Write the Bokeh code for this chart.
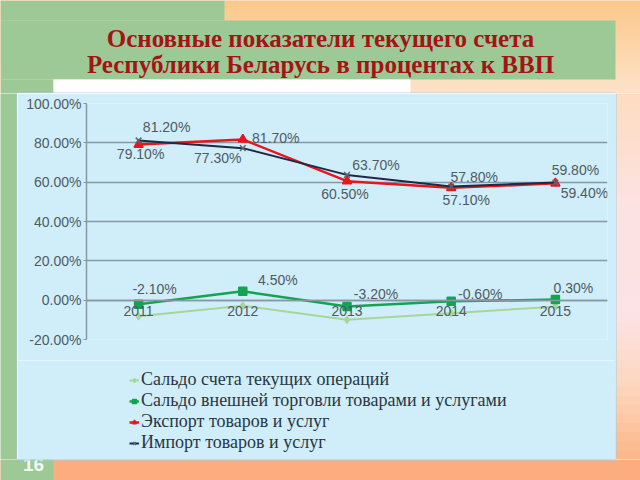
from bokeh.plotting import figure
from bokeh.models import (FactorRange, Range1d, PrintfTickFormatter, Legend, LegendItem,
                          ColumnDataSource, FixedTicker)
from bokeh.layouts import column, row
from bokeh.embed import file_html
from bokeh.resources import INLINE
from bokeh.core.properties import value

# ---------------- data ----------------
years = ["2011", "2012", "2013", "2014", "2015"]
current_account = [-8.2, -2.8, -10.0, -6.6, -3.3]
trade_balance = [-2.1, 4.5, -3.2, -0.6, 0.3]
exports = [79.1, 81.7, 60.5, 57.1, 59.4]
imports = [81.2, 77.3, 63.7, 57.8, 59.8]
y_ticks = [-20, 0, 20, 40, 60, 80, 100]
series_names = ["Сальдо счета текущих операций",
                "Сальдо внешней торговли товарами и услугами",
                "Экспорт товаров и услуг",
                "Импорт товаров и услуг"]
title_lines = ["Основные показатели текущего счета",
               "Республики Беларусь в процентах к ВВП"]
slide_number = "16"

# ---------------- styling ----------------
GREEN_BG = "#9cc996"
CYAN = "#cfeefa"
BOX_EDGE = "#b3c7d3"
TITLE_RED = "#a31515"
TEXT_GRAY = "#505a63"
AXIS_GRAY = "#8698a4"

# label offsets in pixels (dx, dy), screen direction
trade_off = [(16, -15), (35, -11), (29, -12), (29, -7), (18, -12)]
export_off = [(2, 9), (33, -1), (-2, 13), (15, 12), (29, 10)]
import_off = [(28, -13), (-25, 10), (29, -10), (23, -9), (20, -13)]

series_styles = [
    dict(color="#a5d69c", lw=2, marker="diamond", size=7, mcolor="#a5d69c"),
    dict(color="#14a352", lw=2.5, marker="square", size=8, mcolor="#14a352"),
    dict(color="#e8161c", lw=2.5, marker="triangle", size=9, mcolor="#e8161c"),
    dict(color="#1c2a48", lw=2, marker="x", size=8, mcolor="#5a6672"),
]


def hex2rgb(h):
    h = h.lstrip("#")
    return tuple(int(h[i:i + 2], 16) for i in (0, 2, 4))


def mix(c1, c2, t):
    a, b = hex2rgb(c1), hex2rgb(c2)
    return "#%02x%02x%02x" % tuple(int(round(a[i] + (b[i] - a[i]) * t)) for i in range(3))


def band_colors(stops, n):
    cols = []
    for k in range(n):
        fr = (k + 0.5) / n
        c = stops[-1][1]
        for j in range(len(stops) - 1):
            if stops[j][0] <= fr <= stops[j + 1][0]:
                t = (fr - stops[j][0]) / (stops[j + 1][0] - stops[j][0])
                c = mix(stops[j][1], stops[j + 1][1], t)
                break
        cols.append(c)
    return cols


def stripes(f, x0, x1, y0, y1, stops, n=30):
    step = (y1 - y0) / n
    src = ColumnDataSource(dict(
        t=[y0 + step * k for k in range(n)],
        b=[y0 + step * (k + 1) + 0.7 for k in range(n)],
        c=band_colors(stops, n)))
    f.quad(left=x0, right=x1, top="t", bottom="b", fill_color="c", line_color=None, source=src)


def tile(w, h, bg):
    f = figure(width=w, height=h, x_range=Range1d(0, w), y_range=Range1d(h, 0),
               output_backend="svg", toolbar_location=None, min_border=0,
               x_axis_type=None, y_axis_type=None, outline_line_color=None,
               background_fill_color=bg, border_fill_color=bg, frame_align=False)
    return f


# ---------------- top decoration ----------------
top = tile(640, 93, "#fcd2a6")
stripes(top, 0, 640, 0, 93, [(0, "#fbc88a"), (1, "#fde2c8")])
top.quad(left=0, right=224, top=0, bottom=20, fill_color=GREEN_BG, line_color=None)
top.quad(left=0, right=615, top=20, bottom=79, fill_color=GREEN_BG, line_color=None)
top.quad(left=0, right=53, top=79, bottom=93, fill_color=GREEN_BG, line_color=None)
top.quad(left=53, right=410, top=79, bottom=93, fill_color="#ffffff", line_color=None)
top.quad(left=17, right=615, top=92, bottom=93, fill_color=BOX_EDGE, line_color=None)
top.text(x=[320, 320], y=[37.5, 63.5], text=title_lines, text_align="center",
         text_baseline="middle", text_font=value("Liberation Serif"),
         text_font_style="bold", text_font_size="25px", text_color=TITLE_RED)

# ---------------- side decorations ----------------
left = tile(17, 366, GREEN_BG)
left.quad(left=16, right=17, top=0, bottom=366, fill_color=BOX_EDGE, line_color=None)

right = tile(25, 366, "#fde2e6")
stripes(right, 0, 25, 0, 366,
        [(0, "#fddcc0"), (0.3, "#fde2e2"), (0.6, "#fde2e6"),
         (0.8, "#fdd6bc"), (1, "#fcb688")], n=40)
right.quad(left=0, right=1, top=0, bottom=366, fill_color=BOX_EDGE, line_color=None)

# ---------------- bottom decoration ----------------
bottom = tile(640, 21, "#fcad7f")
bottom.quad(left=0, right=53, top=0, bottom=21, fill_color=GREEN_BG, line_color=None)
bottom.text(x=[33], y=[5], text=[slide_number], text_align="center",
            text_baseline="alphabetic", text_font=value("Liberation Sans"),
            text_font_style="bold", text_font_size="19px", text_color="#f4f8f2")
bottom.quad(left=17, right=615, top=0, bottom=1, fill_color=BOX_EDGE, line_color=None)

# ---------------- chart ----------------
p = figure(width=598, height=267, x_range=FactorRange(*years), y_range=Range1d(-20, 100),
           output_backend="svg", toolbar_location=None, frame_align=False,
           min_border_left=69, min_border_right=8, min_border_top=10, min_border_bottom=21,
           background_fill_color=CYAN, border_fill_color=CYAN, outline_line_color=None)
p.x_range.range_padding = 0

p.yaxis.ticker = FixedTicker(ticks=y_ticks)
p.yaxis.formatter = PrintfTickFormatter(format="%.2f%%")
p.yaxis.major_label_text_font = "Liberation Sans"
p.yaxis.major_label_text_font_size = "14px"
p.yaxis.major_label_text_color = TEXT_GRAY
p.yaxis.axis_line_color = AXIS_GRAY
p.yaxis.axis_line_width = 1.5
p.yaxis.major_tick_line_color = AXIS_GRAY
p.yaxis.major_tick_out = 3
p.yaxis.major_tick_in = 0
p.yaxis.minor_tick_line_color = None
p.yaxis.major_label_standoff = 2

p.ygrid.ticker = FixedTicker(ticks=y_ticks)
p.ygrid.grid_line_color = AXIS_GRAY
p.ygrid.grid_line_width = 1.5
p.xgrid.visible = False

p.xaxis.fixed_location = 0
p.xaxis.axis_line_color = AXIS_GRAY
p.xaxis.axis_line_width = 1.5
p.xaxis.major_tick_line_color = None
p.xaxis.major_tick_out = 0
p.xaxis.major_tick_in = 0
p.xaxis.major_label_standoff = 6
p.xaxis.major_label_text_font = "Liberation Sans"
p.xaxis.major_label_text_font_size = "14px"
p.xaxis.major_label_text_color = TEXT_GRAY

for vals, st in zip([current_account, trade_balance, exports, imports], series_styles):
    p.line(x=years, y=vals, line_color=st["color"], line_width=st["lw"])
    p.scatter(x=years, y=vals, marker=st["marker"], size=st["size"],
              fill_color=st["mcolor"], line_color=st["mcolor"], line_width=1.5)


def add_labels(vals, offs):
    src = ColumnDataSource(dict(x=years, y=vals, t=["%.2f%%" % v for v in vals],
                                xo=[o[0] for o in offs], yo=[o[1] for o in offs]))
    p.text(x="x", y="y", text="t", x_offset="xo", y_offset="yo", source=src,
           text_align="center", text_baseline="middle", text_font=value("Liberation Sans"),
           text_font_size="14px", text_color=TEXT_GRAY)


add_labels(trade_balance, trade_off)
add_labels(exports, export_off)
add_labels(imports, import_off)

# ---------------- legend panel (inside chart box) ----------------
lg = tile(598, 99, CYAN)
items = []
for name, st in zip(series_names, series_styles):
    blank = ColumnDataSource(dict(x=[float("nan")], y=[float("nan")]))
    lr = lg.line(x="x", y="y", source=blank, line_color=st["color"], line_width=st["lw"])
    sr = lg.scatter(x="x", y="y", source=blank, marker=st["marker"], size=st["size"] - 2,
                    fill_color=st["mcolor"], line_color=st["mcolor"], line_width=1.5)
    items.append(LegendItem(label=name, renderers=[lr, sr]))

legend = Legend(items=items, location=(112, 6), orientation="vertical",
                label_text_font="'Liberation Serif', 'Times New Roman', serif",
                label_text_font_size="18px",
                label_text_color="#2b3640", glyph_width=10, glyph_height=20,
                label_height=20, label_standoff=2, padding=0, spacing=0, margin=0,
                border_line_color=None, background_fill_alpha=0)
lg.add_layout(legend)

layout = column(top, row(left, column(p, lg), right), bottom)
open("out.html", "w").write(file_html(layout, INLINE))
